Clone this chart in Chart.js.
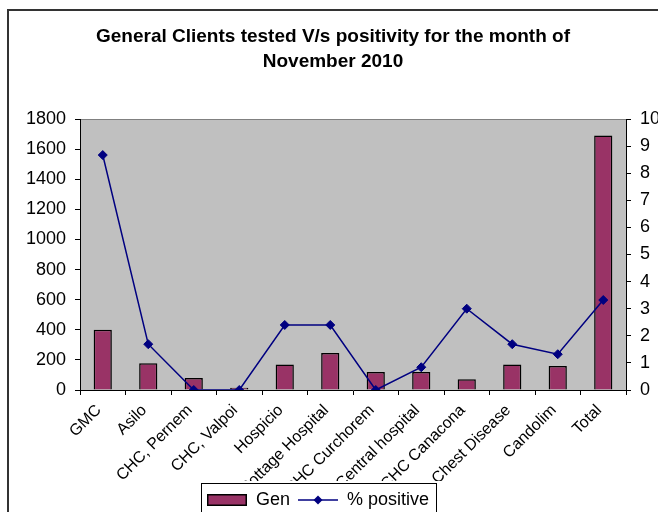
<!DOCTYPE html>
<html>
<head>
<meta charset="utf-8">
<script src="https://cdn.jsdelivr.net/npm/chart.js@4"></script>
<style>
  html, body { margin: 0; padding: 0; background: #fff; overflow: hidden; }
  #wrap { position: relative; width: 658px; height: 512px; }
</style>
</head>
<body>
<div id="wrap"><canvas id="clientsChart"></canvas></div>
<script>
// datos
const centros = ['GMC', 'Asilo', 'CHC, Pernem', 'CHC, Valpoi', 'Hospicio', 'Cottage Hospital',
    'CHC Curchorem', 'Central hospital', 'CHC Canacona', 'Chest Disease', 'Candolim', 'Total'];
const genTested = [400, 177, 80, 15, 170, 245, 120, 120, 72, 170, 160, 1690];
const pctPositive = [8.67, 1.69, 0, 0, 2.4, 2.4, 0, 0.84, 3.0, 1.69, 1.32, 3.32];

const titleLines = ['General Clients tested V/s positivity for the month of', 'November 2010'];
const leftMax = 1800, leftStep = 200;
const rightMax = 10, rightStep = 1;

const BAR_COLOR = '#993366';
const LINE_COLOR = '#000080';
const FONT = "'Liberation Sans', Arial, sans-serif";

// --- muestras de la leyenda ---
function makeSwatch() {
    const c = document.createElement('canvas');
    c.width = 40; c.height = 12;
    const g = c.getContext('2d');
    g.fillStyle = BAR_COLOR;
    g.fillRect(0, 0, 40, 12);
    g.strokeStyle = '#000';
    g.lineWidth = 1.5;
    g.strokeRect(0.75, 0.75, 38.5, 10.5);
    return c;
}
function makeLineSample() {
    const c = document.createElement('canvas');
    c.width = 40; c.height = 12;
    const g = c.getContext('2d');
    g.strokeStyle = LINE_COLOR;
    g.lineWidth = 1.5;
    g.beginPath(); g.moveTo(0, 6); g.lineTo(40, 6); g.stroke();
    g.fillStyle = LINE_COLOR;
    g.beginPath();
    g.moveTo(20, 1.5); g.lineTo(24.5, 6); g.lineTo(20, 10.5); g.lineTo(15.5, 6);
    g.closePath(); g.fill();
    return c;
}
const swatchImg = makeSwatch();
const lineImg = makeLineSample();

const LEGEND_CENTER = 318;
const LEGEND_TOP = 483;

// fondo gris del area de trazado y marco exterior
const plotBackground = {
    id: 'plotBackground',
    beforeDraw(chart) {
        const { ctx, chartArea: a } = chart;
        ctx.save();
        ctx.fillStyle = '#c0c0c0';
        ctx.fillRect(a.left, a.top, a.right - a.left, a.bottom - a.top);
        ctx.strokeStyle = '#808080';
        ctx.lineWidth = 1;
        ctx.beginPath();
        ctx.moveTo(a.left, a.top + 0.5);
        ctx.lineTo(a.right, a.top + 0.5);
        ctx.stroke();
        ctx.strokeStyle = '#333';
        ctx.lineWidth = 2;
        ctx.strokeRect(8, 10, 800, 800);
        ctx.restore();
    }
};

// mover la leyenda y dibujarle caja con borde
const legendBox = {
    id: 'legendBox',
    afterLayout(chart) {
        const lg = chart.legend;
        const h = lg.bottom - lg.top;
        lg.left = LEGEND_CENTER - 250;
        lg.right = LEGEND_CENTER + 250;
        lg.top = LEGEND_TOP;
        lg.bottom = LEGEND_TOP + h;
    },
    afterDraw(chart) {
        const { ctx } = chart;
        const boxL = LEGEND_CENTER - 117, boxW = 235;
        ctx.save();
        ctx.fillStyle = '#fff';
        ctx.fillRect(boxL, LEGEND_TOP - 2, boxW, 60);
        ctx.strokeStyle = '#000';
        ctx.lineWidth = 1;
        ctx.strokeRect(boxL + 0.5, LEGEND_TOP + 0.5, boxW, 60);
        ctx.restore();
        chart.legend.draw();
    }
};

const ctx = document.getElementById('clientsChart');
new Chart(ctx, {
    type: 'bar',
    data: {
        labels: centros,
        datasets: [{
            type: 'bar',
            label: 'Gen',
            data: genTested,
            yAxisID: 'y',
            backgroundColor: BAR_COLOR,
            borderColor: '#000',
            borderWidth: 1.5,
            barPercentage: 0.4,
            categoryPercentage: 1.0,
            order: 2
        }, {
            type: 'line',
            label: '% positive',
            data: pctPositive,
            yAxisID: 'y1',
            borderColor: LINE_COLOR,
            backgroundColor: LINE_COLOR,
            borderWidth: 1.5,
            pointStyle: 'rectRot',
            pointRadius: 4.5,
            pointBorderWidth: 1,
            pointBackgroundColor: LINE_COLOR,
            tension: 0,
            order: 1
        }]
    },
    options: {
        responsive: true,
        maintainAspectRatio: false,
        animation: false,
        layout: { padding: { left: 8, top: 10, right: 0, bottom: -5 } },
        plugins: {
            title: {
                display: true,
                text: titleLines,
                color: '#000',
                font: { family: FONT, size: 19, weight: 'bold', lineHeight: 25 / 19 },
                padding: { top: 14, bottom: 45 }
            },
            legend: {
                position: 'bottom',
                labels: {
                    color: '#000',
                    font: { family: FONT, size: 18 },
                    usePointStyle: true,
                    pointStyleWidth: 40,
                    padding: 8,
                    generateLabels: function(chart) {
                        const items = Chart.defaults.plugins.legend.labels.generateLabels(chart);
                        items.forEach(function(item) {
                            item.pointStyle = item.datasetIndex === 0 ? swatchImg : lineImg;
                        });
                        items.sort(function(a, b) { return a.datasetIndex - b.datasetIndex; });
                        return items;
                    }
                }
            },
            tooltip: { enabled: false }
        },
        scales: {
            x: {
                offset: true,
                grid: { display: true, offset: true, drawOnChartArea: false, drawTicks: true, tickLength: 5, color: '#000' },
                border: { display: true, color: '#000', width: 1 },
                ticks: {
                    color: '#000',
                    font: { family: FONT, size: 16 },
                    minRotation: 45,
                    maxRotation: 45,
                    autoSkip: false,
                    padding: 6,
                    labelOffset: -4
                },
                afterFit: function(scale) { scale.height = 91; }
            },
            y: {
                position: 'left',
                min: 0,
                max: leftMax,
                grid: { display: true, drawOnChartArea: false, drawTicks: true, tickLength: 5, color: '#000' },
                border: { display: true, color: '#000', width: 1 },
                ticks: {
                    stepSize: leftStep,
                    color: '#000',
                    font: { family: FONT, size: 18 },
                    padding: 9,
                    callback: function(value) { return String(value); }
                },
                afterFit: function(scale) { scale.width = 72; }
            },
            y1: {
                position: 'right',
                min: 0,
                max: rightMax,
                grid: { display: true, drawOnChartArea: false, drawTicks: true, tickLength: 5, color: '#000' },
                border: { display: true, color: '#000', width: 1 },
                ticks: {
                    stepSize: rightStep,
                    color: '#000',
                    font: { family: FONT, size: 18 },
                    padding: 9,
                    callback: function(value) { return String(value); }
                },
                afterFit: function(scale) { scale.width = 32; }
            }
        }
    },
    plugins: [plotBackground, legendBox]
});
</script>
</body>
</html>
